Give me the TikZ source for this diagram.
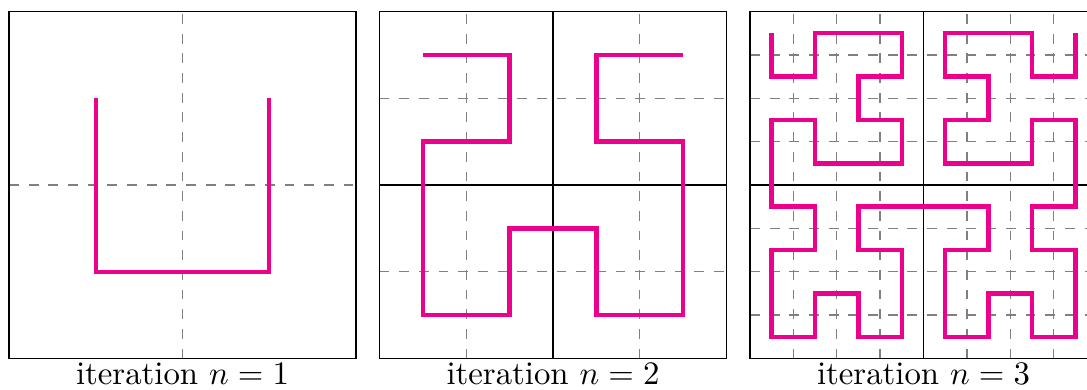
\documentclass[tikz,border=0pt]{standalone}
\definecolor{hilbert}{RGB}{236,0,140}
\tikzset{
  frame/.style={draw=black, line width=0.45pt},
  gridline/.style={draw=black!50, dashed, line width=0.4pt},
  midline/.style={draw=black, line width=0.4pt},
  curve/.style={draw=hilbert, line width=1.35pt, line join=miter},
  caption/.style={anchor=base, inner sep=0pt, font=\normalsize},
}
\begin{document}
\begin{tikzpicture}[x=105.8pt,y=105.8pt]
\clip (0,0) rectangle (3.1326,1.1239);
% ---------- panel 1 ----------
\begin{scope}[shift={(0.02594,0.09078)}]
  \draw[gridline] (0.5,0) -- (0.5,1);
  \draw[gridline] (0,0.5) -- (1,0.5);
  \draw[frame] (0,0) rectangle (1,1);
  \draw[curve] (0.25,0.75) -- (0.25,0.25) -- (0.75,0.25) -- (0.75,0.75);
  \node[caption] (cap1) at (0.5,-0.0744) {iteration $n=1$};
\end{scope}
% ---------- panel 2 ----------
\begin{scope}[shift={(1.09366,0.09078)}]
  \foreach \p in {0.25,0.75} {
    \draw[gridline] (\p,0) -- (\p,1);
    \draw[gridline] (0,\p) -- (1,\p);
  }
  \draw[midline] (0.5,0) -- (0.5,1);
  \draw[midline] (0,0.5) -- (1,0.5);
  \draw[frame] (0,0) rectangle (1,1);
  \begin{scope}[scale=1/8]
    \draw[curve] (1,7) -- (3,7) -- (3,5) -- (1,5) -- (1,3) -- (1,1) -- (3,1) -- (3,3)
      -- (5,3) -- (5,1) -- (7,1) -- (7,3) -- (7,5) -- (5,5) -- (5,7) -- (7,7);
  \end{scope}
  \node[caption] (cap2) at (0.5,-0.0744) {iteration $n=2$};
\end{scope}
% ---------- panel 3 ----------
\begin{scope}[shift={(2.16138,0.09078)}]
  \foreach \p in {0.125,0.25,0.375,0.625,0.75,0.875} {
    \draw[gridline] (\p,0) -- (\p,1);
    \draw[gridline] (0,\p) -- (1,\p);
  }
  \draw[midline] (0.5,0) -- (0.5,1);
  \draw[midline] (0,0.5) -- (1,0.5);
  \draw[frame] (0,0) rectangle (1,1);
  \begin{scope}[scale=1/16]
    \draw[curve]
      (1,15) -- (1,13) -- (3,13) -- (3,15) -- (5,15) -- (7,15) -- (7,13) -- (5,13)
      -- (5,11) -- (7,11) -- (7,9) -- (5,9) -- (3,9) -- (3,11) -- (1,11) -- (1,9)
      -- (1,7) -- (3,7) -- (3,5) -- (1,5) -- (1,3) -- (1,1) -- (3,1) -- (3,3)
      -- (5,3) -- (5,1) -- (7,1) -- (7,3) -- (7,5) -- (5,5) -- (5,7) -- (7,7)
      -- (9,7) -- (11,7) -- (11,5) -- (9,5) -- (9,3) -- (9,1) -- (11,1) -- (11,3)
      -- (13,3) -- (13,1) -- (15,1) -- (15,3) -- (15,5) -- (13,5) -- (13,7) -- (15,7)
      -- (15,9) -- (15,11) -- (13,11) -- (13,9) -- (11,9) -- (9,9) -- (9,11) -- (11,11)
      -- (11,13) -- (9,13) -- (9,15) -- (11,15) -- (13,15) -- (13,13) -- (15,13) -- (15,15);
  \end{scope}
  \node[caption] (cap3) at (0.5,-0.0744) {iteration $n=3$};
\end{scope}
\end{tikzpicture}
\end{document}
